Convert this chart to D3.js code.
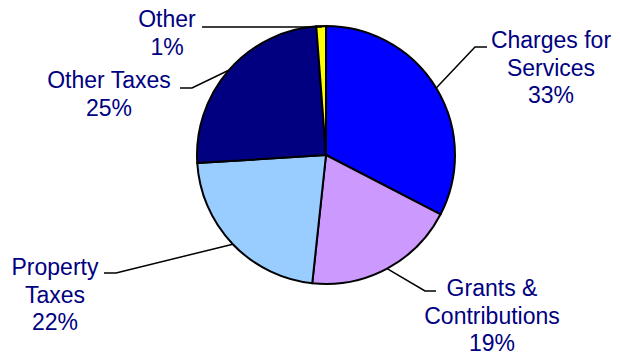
<!DOCTYPE html>
<html>
<head>
<meta charset="utf-8">
<script src="https://cdn.jsdelivr.net/npm/d3@7"></script>
<style>
  html, body { margin: 0; padding: 0; background: #fff; }
  svg { display: block; }
</style>
</head>
<body>
<svg id="chart" width="620" height="355"></svg>
<script>
// ---- data ----
const categories = ["Charges for Services", "Grants & Contributions", "Property Taxes", "Other Taxes", "Other"];
const values = [32.6, 19.1, 22.3, 24.8, 1.2];
const labelLines = [["Charges for", "Services"], ["Grants &", "Contributions"], ["Property", "Taxes"], ["Other Taxes"], ["Other"]];
const colors = ["#0000FF", "#CC99FF", "#99CCFF", "#000080", "#FFFF00"];

// ---- layout (label placement) ----
const labelLayout = [
  { x: 551, y: 48, elbow: [475, 47], end: [487, 47] },
  { x: 492, y: 296, elbow: [425, 291], end: [436, 291] },
  { x: 55, y: 275, elbow: [116, 273], end: [104, 273] },
  { x: 109, y: 88, elbow: [192, 88], end: [180, 88] },
  { x: 167, y: 27, elbow: null, end: [202, 27] }
];

const cx = 326, cy = 155, r = 129;
const svg = d3.select("#chart");
const g = svg.append("g").attr("transform", `translate(${cx},${cy})`);

const total = d3.sum(values);
const data = categories.map((c, i) => ({ cat: c, value: values[i], i }));
const pie = d3.pie().value(d => d.value).sort(null);
const arcs = pie(data);
const arc = d3.arc().innerRadius(0).outerRadius(r);
const edgeArc = d3.arc().innerRadius(r).outerRadius(r);

g.selectAll("path.slice").data(arcs).enter().append("path")
  .attr("class", "slice")
  .attr("d", arc)
  .attr("fill", d => colors[d.data.i])
  .attr("stroke", "#000")
  .attr("stroke-width", 2)
  .attr("stroke-linejoin", "round");

// leader lines
arcs.forEach(d => {
  const L = labelLayout[d.data.i];
  const e = edgeArc.centroid(d);
  const p0 = [cx + e[0], cy + e[1]];
  const pts = [p0];
  if (L.elbow) pts.push(L.elbow);
  else pts.push([p0[0], L.end[1]]);
  pts.push(L.end);
  svg.append("path")
    .attr("d", d3.line()(pts))
    .attr("fill", "none")
    .attr("stroke", "#000")
    .attr("stroke-width", 1.5);
});

// labels
arcs.forEach(d => {
  const L = labelLayout[d.data.i];
  const lines = labelLines[d.data.i].concat([Math.round(d.data.value / total * 100) + "%"]);
  const t = svg.append("text")
    .attr("x", L.x).attr("y", L.y)
    .attr("text-anchor", "middle")
    .attr("fill", "#000080")
    .style("font-family", "'Liberation Sans', Arial, sans-serif")
    .style("font-size", "23px");
  lines.forEach((s, k) => {
    t.append("tspan").attr("x", L.x).attr("y", L.y + k * 27.5).text(s);
  });
});
</script>
</body>
</html>
